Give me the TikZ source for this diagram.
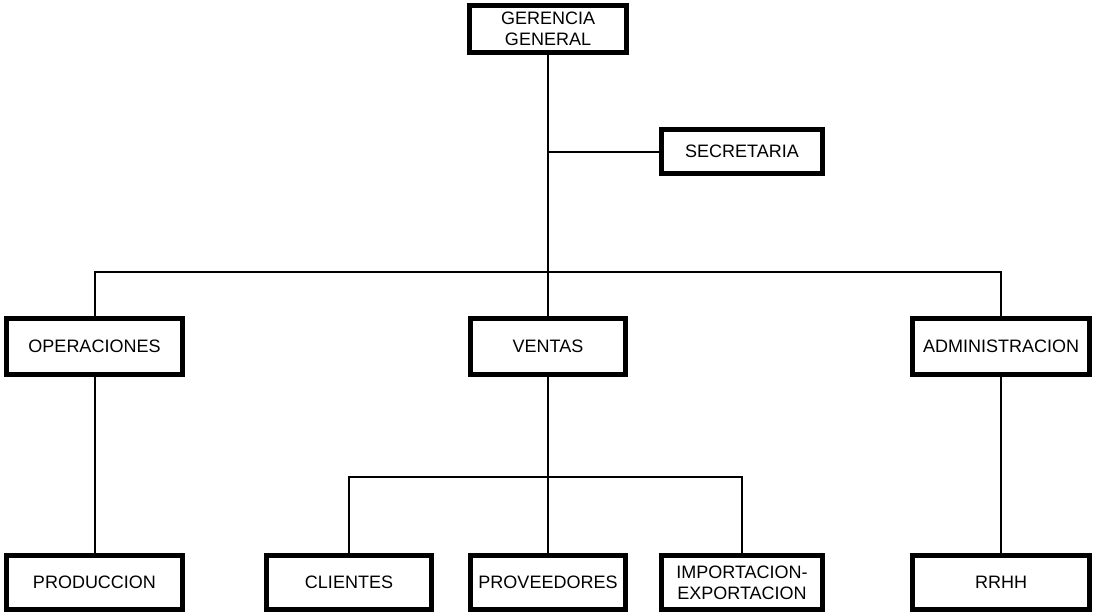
\documentclass[tikz,border=0pt]{standalone}
\usepackage{fontspec}
\setmainfont{Liberation Sans}

\tikzset{
  caja/.style={draw, line width=2.5pt, inner sep=0pt, align=center,
    minimum height=28pt, font=\fontsize{9}{10.5}\selectfont},
  linea/.style={line width=1pt}
}

\begin{document}
\begin{tikzpicture}[x=0.5pt, y=-0.5pt]
  \useasboundingbox (0,0) rectangle (1106,615);

  % gerencia y secretaria
  \node [caja, minimum width=78.5pt, minimum height=23.5pt] (gerencia) at (548,29) {GERENCIA\\GENERAL};
  \node [caja, minimum width=80.5pt, minimum height=22pt] (secretaria) at (742,151.5) {SECRETARIA};

  % departamentos
  \node [caja, minimum width=88pt] (operaciones) at (94.5,346.5) {OPERACIONES};
  \node [caja, minimum width=77.5pt] (ventas) at (548,346.5) {VENTAS};
  \node [caja, minimum width=88.5pt] (administracion) at (1001,346.5) {ADMINISTRACION};

  % areas
  \node [caja, minimum width=88pt, minimum height=27pt] (produccion) at (94.5,582.5) {PRODUCCION};
  \node [caja, minimum width=82.5pt, minimum height=27pt] (clientes) at (349,582.5) {CLIENTES};
  \node [caja, minimum width=77.5pt, minimum height=27pt] (proveedores) at (548,582.5) {PROVEEDORES};
  \node [caja, minimum width=80.5pt, minimum height=27pt] (importacion) at (742,582.5) {IMPORTACION-\\EXPORTACION};
  \node [caja, minimum width=88.5pt, minimum height=27pt] (rrhh) at (1001,582.5) {RRHH};

  % puntos de union
  \coordinate (barra) at (548,272);
  \coordinate (barra ventas) at (548,477);

  % lineas
  \draw [linea] (gerencia.south) -- (ventas.north);
  \draw [linea] (gerencia.south |- secretaria.west) -- (secretaria.west);
  \draw [linea] (operaciones.north) |- (barra) -| (administracion.north);
  \draw [linea] (operaciones.south) -- (produccion.north);
  \draw [linea] (ventas.south) -- (proveedores.north);
  \draw [linea] (clientes.north) |- (barra ventas) -| (importacion.north);
  \draw [linea] (administracion.south) -- (rrhh.north);
\end{tikzpicture}
\end{document}
